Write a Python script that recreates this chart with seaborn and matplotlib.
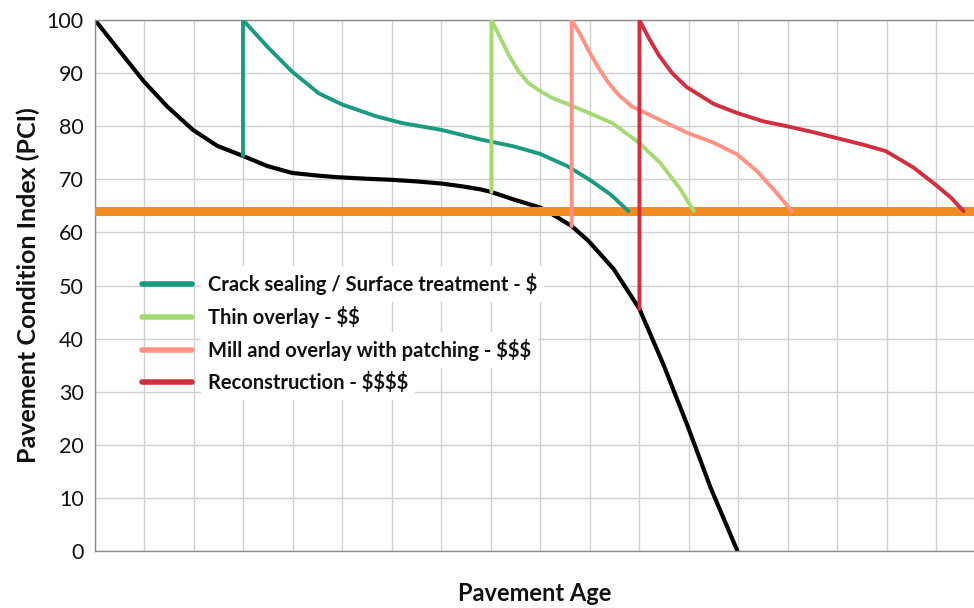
#!/usr/bin/env python3
"""
Pavement deterioration curve with treatment resets (PCI vs pavement age).

Output: out.png (974x608 px)
"""
import pandas as pd
import matplotlib as mpl
import matplotlib.pyplot as plt
import seaborn as sns
from matplotlib import font_manager as fm

# Base deterioration curve (no treatment)
base_age = [0, 0.45, 0.99, 1.46, 1.98, 2.47, 2.99, 3.48, 3.98, 4.5, 4.89, 5.5,
            6.0, 6.5, 7.0, 7.4, 7.79, 8.01, 8.46, 8.99, 9.19, 9.63, 9.97, 10.48,
            11.0, 11.49, 11.98, 12.43, 12.98]
base_pci = [100, 94.7, 88.4, 83.7, 79.3, 76.3, 74.4, 72.5, 71.2, 70.7, 70.4,
            70.1, 69.9, 69.6, 69.2, 68.7, 68.1, 67.6, 66.2, 64.7, 63.7, 61.2,
            58.4, 53.1, 45.6, 35.0, 23.4, 12.1, 0]

# Treatment curves (vertical jump to 100, then decay to the trigger level)
crack_age = [2.99, 2.99, 3.51, 3.98, 4.52, 4.99, 5.67, 6.2, 7.0, 7.79, 8.46,
             8.99, 9.54, 9.98, 10.41, 10.78]
crack_pci = [74.4, 100, 94.7, 90.3, 86.2, 84.1, 81.9, 80.6, 79.3, 77.5, 76.2,
             74.8, 72.5, 70.0, 67.2, 64]

thin_age = [8.01, 8.01, 8.16, 8.36, 8.56, 8.76, 8.98, 9.24, 9.57, 9.98, 10.45,
            10.99, 11.42, 11.83, 12.1]
thin_pci = [67.6, 100, 97.2, 93.4, 90.3, 88.1, 86.7, 85.3, 84.1, 82.5, 80.6,
            76.9, 73.1, 68.1, 64]

mill_age = [9.63, 9.63, 9.81, 9.98, 10.18, 10.38, 10.58, 10.85, 11.12, 11.5,
            11.98, 12.5, 12.97, 13.38, 13.71, 14.08]
mill_pci = [61.2, 100, 97.2, 94.1, 90.9, 88.1, 85.9, 83.7, 82.5, 80.8, 78.7,
            76.9, 74.7, 71.5, 68.1, 64]

recon_age = [11.0, 11.0, 11.19, 11.39, 11.66, 11.95, 12.5, 12.97, 13.51, 13.98,
             14.5, 14.97, 15.53, 15.98, 16.54, 16.98, 17.3, 17.55]
recon_pci = [45.6, 100, 96.6, 93.4, 90.0, 87.4, 84.2, 82.5, 80.9, 80.0, 78.9,
             77.8, 76.5, 75.3, 72.2, 69.0, 66.5, 64]

treatments = [
    "Crack sealing / Surface treatment - $",
    "Thin overlay - $$",
    "Mill and overlay with patching - $$$",
    "Reconstruction - $$$$",
]
treatment_colors = ["#1a9a80", "#a5d973", "#ff9282", "#d12f3d"]

trigger_pci = 64
y_ticks = [0, 10, 20, 30, 40, 50, 60, 70, 80, 90, 100]


def _weight(w):
    return w if isinstance(w, int) else fm.weight_dict.get(w, 400)


def bold_family():
    # Lato bold when installed, otherwise a close sans with a real bold face
    for name in ["Lato", "Roboto", "Open Sans"]:
        if any(f.name == name and _weight(f.weight) >= 600 for f in fm.fontManager.ttflist):
            return [name, "DejaVu Sans"]
    return ["DejaVu Sans"]


def set_style():
    sns.set_theme(context="notebook", style="white")
    mpl.rcParams.update(
        {
            "font.family": ["Lato", "DejaVu Sans"],
            "text.parse_math": False,  # labels contain literal $ signs
            "axes.edgecolor": "#8c8c8c",
            "axes.linewidth": 1.0,
            "text.color": "#111111",
            "axes.labelcolor": "#111111",
            "ytick.color": "#111111",
            "figure.facecolor": "#ffffff",
            "axes.facecolor": "#ffffff",
        }
    )


def main():
    set_style()
    bfam = bold_family()

    fig = plt.figure(figsize=(9.74, 6.08), dpi=100)
    ax = fig.add_axes([95 / 974, 1 - 551 / 608, 1 - 95 / 974, 531 / 608])

    # gridlines
    ax.set_xticks(range(0, 18))
    ax.set_yticks(y_ticks)
    ax.grid(True, color="#d0d0d0", linewidth=1.0)
    ax.set_axisbelow(True)

    # base curve
    sns.lineplot(x=base_age, y=base_pci, ax=ax, color="black", linewidth=3.0,
                 sort=False, estimator=None, zorder=2, solid_joinstyle="round")

    # trigger level
    ax.axhline(trigger_pci, color="#f08c22", linewidth=6.5, zorder=3)

    frames = []
    for name, ages, pcis in zip(
        treatments,
        [crack_age, thin_age, mill_age, recon_age],
        [crack_pci, thin_pci, mill_pci, recon_pci],
    ):
        frames.append(pd.DataFrame({"age": ages, "pci": pcis, "treatment": name}))
    df = pd.concat(frames, ignore_index=True)

    sns.lineplot(
        data=df,
        x="age",
        y="pci",
        hue="treatment",
        hue_order=treatments,
        palette=treatment_colors,
        units="treatment",
        estimator=None,
        sort=False,
        linewidth=2.8,
        solid_joinstyle="round",
        ax=ax,
        zorder=4,
    )

    ax.set_xlim(0, 17.76)
    ax.set_ylim(0, 100)
    ax.tick_params(axis="x", labelbottom=False, length=0)
    ax.tick_params(axis="y", labelsize=15.5, length=0, pad=8)

    ax.set_xlabel("Pavement Age", fontsize=17, fontweight="bold",
                  family=bfam, labelpad=22)
    ax.set_ylabel("Pavement Condition Index (PCI)", fontsize=18,
                  fontweight="bold", family=bfam, labelpad=5)

    ax.spines["right"].set_visible(False)

    leg = ax.legend(
        loc="upper left",
        bbox_to_anchor=(0.033, 0.5575),
        frameon=False,
        prop={"family": bfam, "weight": "bold", "size": 14.5},
        handlelength=2.5,
        handletextpad=0.78,
        labelspacing=0.55,
    )
    for line in leg.get_lines():
        line.set_linewidth(4)
    for t in leg.get_texts():
        t.set_bbox(dict(facecolor="white", edgecolor="none", pad=5))

    fig.savefig("out.png", dpi=100)


if __name__ == "__main__":
    main()
